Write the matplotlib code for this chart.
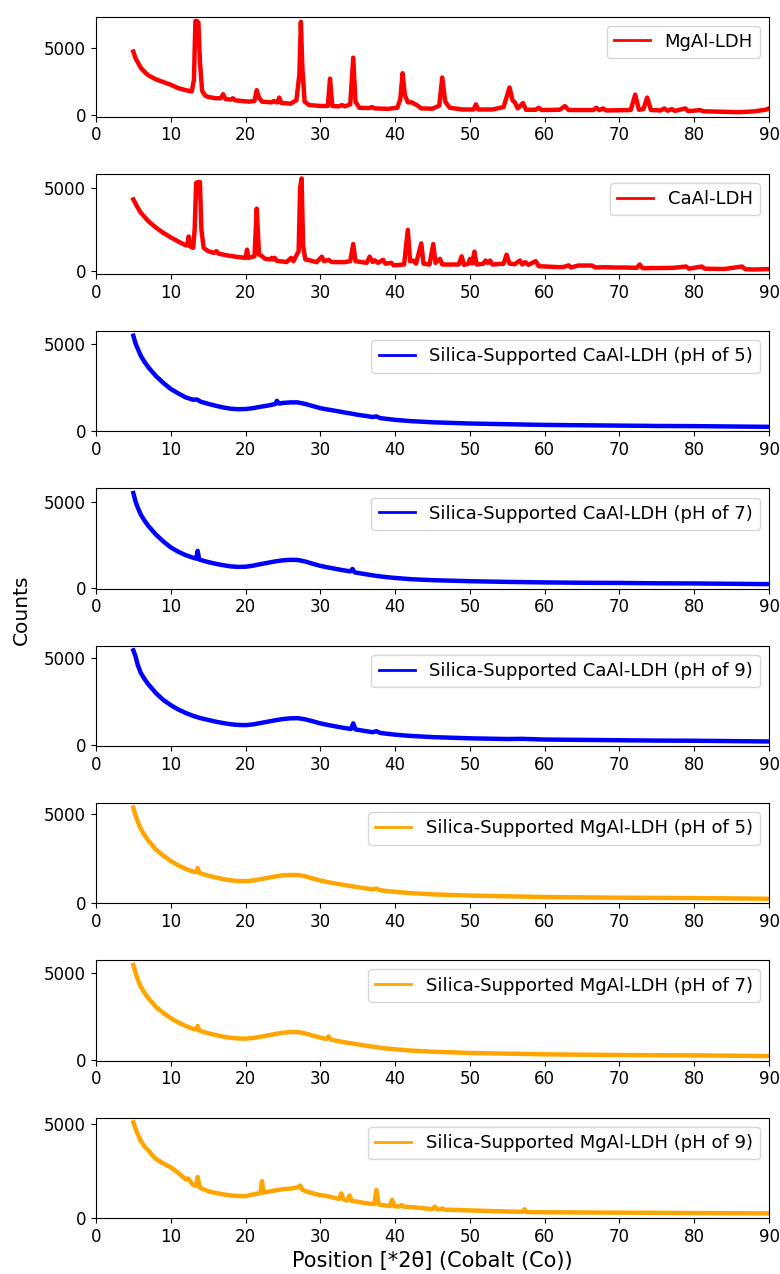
import matplotlib
matplotlib.use("Agg")
import matplotlib.pyplot as plt

# ---------------- data ----------------
labels = [
    "MgAl-LDH",
    "CaAl-LDH",
    "Silica-Supported CaAl-LDH (pH of 5)",
    "Silica-Supported CaAl-LDH (pH of 7)",
    "Silica-Supported CaAl-LDH (pH of 9)",
    "Silica-Supported MgAl-LDH (pH of 5)",
    "Silica-Supported MgAl-LDH (pH of 7)",
    "Silica-Supported MgAl-LDH (pH of 9)",
]
colors = ["red", "red", "blue", "blue", "blue", "orange", "orange", "orange"]

x_mgal = [5.0, 5.3, 5.6, 6.0, 6.5, 7.0, 8.0, 9.0, 10.0, 11.0, 12.0, 12.8, 13.1, 13.3, 13.5, 13.7, 13.9, 14.2,
          14.6, 15.0, 16.0, 16.7, 17.0, 17.3, 18.0, 18.3, 18.6, 19.5, 20.5, 21.2, 21.5, 21.8, 22.2, 23.5, 23.8,
          24.1, 24.3, 24.5, 24.8, 26.0, 26.8, 27.2, 27.4, 27.6, 27.9, 28.5, 30.0, 31.0, 31.3, 31.6, 32.5, 32.9,
          33.3, 34.0, 34.4, 34.7, 35.2, 36.5, 36.9, 37.3, 39.0, 40.3, 40.7, 41.0, 41.3, 41.7, 42.2, 42.9, 43.5,
          45.0, 45.9, 46.3, 46.7, 47.3, 49.0, 50.5, 50.8, 51.1, 53.0, 54.5, 55.0, 55.3, 55.7, 56.0, 56.4, 57.1,
          57.5, 58.8, 59.2, 59.6, 62.0, 62.7, 63.2, 66.5, 66.9, 67.3, 67.8, 68.2, 71.5, 72.1, 72.6, 73.2, 73.7,
          74.2, 75.5, 76.0, 76.4, 77.0, 77.4, 78.8, 79.2, 80.8, 81.2, 84.0, 86.0, 88.0, 89.5, 90.0]
y_mgal = [4700, 4200, 3900, 3500, 3200, 2950, 2650, 2450, 2250, 2000, 1850, 1750, 2600, 6950, 6950, 6850, 4000, 1800,
          1450, 1350, 1250, 1250, 1550, 1200, 1150, 1250, 1100, 1050, 1000, 1050, 1850, 1300, 1000, 950, 1050,
          950, 950, 1300, 900, 850, 1100, 3000, 6900, 3500, 1000, 750, 680, 680, 2700, 680, 650, 750,
          650, 800, 4250, 1000, 550, 520, 600, 500, 470, 550, 1200, 3100, 1500, 950, 950, 750, 500,
          480, 700, 2780, 1000, 550, 420, 420, 800, 420, 420, 600, 1500, 2050, 1100, 950, 500, 900,
          400, 400, 550, 380, 400, 670, 380, 380, 550, 370, 500, 350, 380, 1520, 400, 450, 1300,
          380, 350, 500, 330, 450, 320, 500, 300, 380, 290, 250, 220, 280, 400, 500]

x_caal = [5.0, 5.3, 5.6, 6.0, 6.5, 7.0, 8.0, 9.0, 10.0, 11.0, 12.0, 12.2, 12.4, 12.6, 13.0, 13.2, 13.4, 13.7,
          13.9, 14.1, 14.4, 15.0, 15.8, 16.1, 16.4, 17.5, 19.0, 20.0, 20.2, 20.4, 21.2, 21.5, 21.8, 22.1, 22.6,
          23.3, 23.5, 23.7, 23.9, 24.2, 25.5, 26.1, 26.4, 27.1, 27.3, 27.5, 27.7, 28.0, 28.6, 29.5, 30.2, 30.5,
          31.1, 31.5, 33.2, 34.0, 34.4, 34.7, 36.2, 36.6, 37.0, 37.3, 37.7, 38.4, 38.7, 39.5, 39.8, 41.2, 41.7,
          42.0, 42.4, 42.8, 43.5, 43.8, 44.6, 45.1, 45.4, 46.0, 46.3, 48.5, 48.9, 49.2, 49.8, 50.0, 50.3, 50.6,
          50.9, 51.8, 52.1, 52.4, 52.7, 53.0, 54.5, 54.9, 55.3, 56.0, 56.7, 57.0, 57.4, 57.8, 58.8, 59.2, 62.0,
          62.5, 63.2, 63.5, 64.5, 65.2, 66.3, 66.8, 68.0, 69.5, 70.7, 72.3, 72.7, 73.1, 77.2, 78.9, 79.3, 81.0,
          81.4, 84.0, 86.4, 86.8, 88.0, 90.0]
y_caal = [4300, 4050, 3800, 3500, 3250, 3000, 2620, 2300, 2030, 1780, 1550, 1550, 2080, 1480, 1400, 2500, 5300, 5340,
          5350, 2500, 1400, 1200, 1100, 1200, 1050, 950, 850, 800, 1290, 800, 900, 3750, 1000, 930, 750,
          700, 800, 700, 800, 620, 550, 800, 600, 1200, 5000, 5560, 1500, 700, 650, 540, 870, 600,
          680, 550, 540, 600, 1630, 600, 500, 870, 550, 650, 500, 680, 450, 500, 350, 400, 2480,
          600, 640, 450, 1670, 450, 400, 1630, 500, 740, 400, 400, 890, 380, 450, 740, 450, 1170,
          400, 450, 640, 500, 640, 400, 450, 990, 450, 420, 640, 400, 540, 380, 600, 300, 240,
          250, 350, 220, 340, 340, 340, 220, 240, 220, 220, 200, 400, 180, 200, 280, 150, 280,
          150, 130, 280, 120, 100, 130]

x_ca5 = [5.0, 5.3, 5.6, 6.0, 6.5, 7.0, 7.5, 8.0, 9.0, 10.0, 11.0, 12.0, 13.0, 13.5, 14.0, 15.0, 16.0, 17.0, 18.0,
         19.0, 20.0, 21.0, 22.0, 23.0, 24.0, 24.2, 24.5, 25.0, 26.0, 27.0, 28.0, 29.0, 30.0, 31.0, 32.0, 33.0,
         34.0, 35.0, 36.0, 37.0, 37.5, 38.0, 39.0, 40.0, 42.0, 45.0, 50.0, 55.0, 60.0, 65.0, 70.0, 75.0, 80.0,
         85.0, 90.0]
y_ca5 = [5450, 5000, 4700, 4300, 3950, 3650, 3400, 3150, 2750, 2400, 2150, 1920, 1780, 1800, 1670, 1550, 1440, 1340, 1270,
         1240, 1250, 1300, 1380, 1450, 1540, 1720, 1560, 1600, 1630, 1630, 1540, 1420, 1300, 1220, 1150, 1070,
         1000, 920, 860, 790, 830, 730, 680, 630, 560, 490, 420, 380, 340, 320, 300, 280, 270,
         250, 230]

x_ca7 = [5.0, 5.3, 5.6, 6.0, 6.5, 7.0, 7.5, 8.0, 9.0, 10.0, 11.0, 12.0, 13.0, 13.4, 13.6, 13.8, 14.0, 15.0, 16.0,
         17.0, 18.0, 19.0, 20.0, 21.0, 22.0, 23.0, 24.0, 25.0, 26.0, 27.0, 28.0, 29.0, 30.0, 31.0, 32.0, 33.0,
         34.0, 34.3, 34.6, 35.0, 36.0, 37.0, 38.0, 39.0, 40.0, 42.0, 45.0, 50.0, 55.0, 60.0, 65.0, 70.0, 75.0,
         80.0, 85.0, 90.0]
y_ca7 = [5500, 5000, 4650, 4250, 3900, 3600, 3350, 3100, 2700, 2350, 2100, 1900, 1750, 1700, 2150, 1650, 1620, 1500, 1400,
         1320, 1250, 1220, 1230, 1290, 1380, 1460, 1540, 1600, 1630, 1620, 1530, 1400, 1280, 1190, 1110, 1030,
         960, 1100, 900, 870, 800, 730, 670, 620, 580, 510, 450, 390, 350, 320, 300, 290, 270,
         260, 240, 220]

x_ca9 = [5.0, 5.3, 5.6, 6.0, 6.5, 7.0, 7.5, 8.0, 9.0, 10.0, 11.0, 12.0, 13.0, 14.0, 15.0, 16.0, 17.0, 18.0, 19.0,
         20.0, 21.0, 22.0, 23.0, 24.0, 25.0, 26.0, 27.0, 28.0, 29.0, 30.0, 31.0, 32.0, 33.0, 34.1, 34.4, 34.7,
         35.0, 36.0, 37.0, 37.5, 38.0, 39.0, 40.0, 42.0, 45.0, 50.0, 55.0, 57.0, 60.0, 65.0, 70.0, 75.0, 80.0,
         85.0, 90.0]
y_ca9 = [5450, 5100, 4600, 4150, 3800, 3500, 3250, 3000, 2600, 2300, 2050, 1850, 1680, 1550, 1450, 1350, 1270, 1200, 1160,
         1150, 1190, 1270, 1350, 1430, 1500, 1540, 1550, 1480, 1370, 1250, 1160, 1080, 1000, 930, 1250, 900,
         880, 810, 740, 800, 700, 650, 600, 530, 460, 390, 350, 360, 320, 300, 280, 260, 250,
         230, 210]

x_mg5 = [5.0, 5.3, 5.6, 6.0, 6.5, 7.0, 7.5, 8.0, 9.0, 10.0, 11.0, 12.0, 13.0, 13.4, 13.6, 13.8, 14.0, 15.0, 16.0,
         17.0, 18.0, 19.0, 20.0, 21.0, 22.0, 23.0, 24.0, 25.0, 26.0, 27.0, 28.0, 29.0, 30.0, 31.0, 32.0, 33.0,
         34.0, 35.0, 36.0, 37.0, 37.5, 38.0, 39.0, 40.0, 42.0, 45.0, 50.0, 55.0, 60.0, 65.0, 70.0, 75.0, 80.0,
         85.0, 90.0]
y_mg5 = [5350, 4900, 4550, 4150, 3800, 3500, 3250, 3000, 2650, 2350, 2100, 1900, 1750, 1720, 1950, 1700, 1650, 1520, 1420,
         1330, 1260, 1220, 1210, 1250, 1320, 1400, 1480, 1540, 1560, 1560, 1480, 1360, 1250, 1160, 1080, 1010,
         940, 870, 810, 750, 800, 700, 650, 610, 540, 470, 400, 360, 320, 300, 280, 270, 260,
         240, 220]

x_mg7 = [5.0, 5.3, 5.6, 6.0, 6.5, 7.0, 7.5, 8.0, 9.0, 10.0, 11.0, 12.0, 13.0, 13.4, 13.6, 13.8, 14.0, 15.0, 16.0,
         17.0, 18.0, 19.0, 20.0, 21.0, 22.0, 23.0, 24.0, 25.0, 26.0, 27.0, 28.0, 29.0, 30.0, 30.8, 31.1, 31.4,
         32.0, 33.0, 34.0, 35.0, 36.0, 37.0, 38.0, 39.0, 40.0, 42.0, 45.0, 50.0, 55.0, 60.0, 65.0, 70.0, 75.0,
         80.0, 85.0, 90.0]
y_mg7 = [5450, 5000, 4600, 4200, 3850, 3550, 3300, 3050, 2700, 2400, 2150, 1950, 1780, 1750, 1950, 1700, 1660, 1530, 1430,
         1340, 1270, 1230, 1220, 1260, 1330, 1410, 1490, 1560, 1600, 1600, 1520, 1400, 1280, 1200, 1350, 1170,
         1110, 1030, 960, 890, 820, 760, 700, 650, 610, 540, 470, 400, 360, 320, 300, 280, 270,
         260, 240, 220]

x_mg9 = [5.0, 5.3, 5.6, 6.0, 6.5, 7.0, 7.5, 8.0, 9.0, 10.0, 11.0, 12.0, 12.3, 12.6, 13.0, 13.4, 13.6, 13.9, 14.2,
         15.0, 16.0, 17.0, 18.0, 19.0, 20.0, 21.0, 22.0, 22.2, 22.4, 23.0, 24.0, 25.0, 26.0, 27.0, 27.3, 27.6,
         28.0, 29.0, 30.0, 31.0, 32.5, 32.8, 33.1, 33.6, 33.9, 34.2, 35.0, 36.0, 37.2, 37.5, 37.8, 39.3, 39.6,
         39.9, 40.6, 40.9, 41.2, 42.0, 45.0, 45.3, 45.6, 46.0, 46.3, 46.6, 50.0, 55.0, 57.0, 57.3, 57.6, 60.0,
         65.0, 70.0, 75.0, 80.0, 85.0, 90.0]
y_mg9 = [5100, 4750, 4450, 4100, 3800, 3600, 3350, 3150, 2900, 2700, 2400, 2050, 2100, 1950, 1750, 1700, 2180, 1600, 1550,
         1420, 1320, 1250, 1190, 1160, 1150, 1240, 1320, 1950, 1340, 1380, 1460, 1520, 1560, 1620, 1720, 1500,
         1420, 1300, 1210, 1150, 1000, 1300, 980, 920, 1190, 900, 850, 780, 720, 1490, 710, 620, 960,
         610, 600, 680, 580, 570, 460, 590, 450, 440, 500, 430, 390, 330, 310, 450, 300, 290,
         280, 270, 260, 250, 240, 230]

x_data = [x_mgal, x_caal, x_ca5, x_ca7, x_ca9, x_mg5, x_mg7, x_mg9]
y_data = [y_mgal, y_caal, y_ca5, y_ca7, y_ca9, y_mg5, y_mg7, y_mg9]

xticks = [0, 10, 20, 30, 40, 50, 60, 70, 80, 90]
yticks = [0, 5000]

# ---------------- figure ----------------
fig, axes = plt.subplots(8, 1, figsize=(7.8, 12.74), dpi=100)
fig.subplots_adjust(left=0.123, right=0.986, top=0.987, bottom=0.044, hspace=0.57)

for ax, xs, ys, lab, col in zip(axes, x_data, y_data, labels, colors):
    ax.plot(xs, ys, color=col, lw=3.2, label=lab, solid_joinstyle="round")
    ax.set_xlim(0, 90)
    ax.set_xticks(xticks)
    ax.set_yticks(yticks)
    ax.tick_params(labelsize=12)
    leg = ax.legend(loc="upper right", fontsize=13)
    for ln in leg.get_lines():
        ln.set_linewidth(2.0)

axes[-1].set_xlabel("Position [*2θ] (Cobalt (Co))", fontsize=15)
fig.text(0.028, 1 - 610 / 1274, "Counts", rotation=90, va="center", ha="center", fontsize=14.5)

fig.savefig("out.png", dpi=100)
